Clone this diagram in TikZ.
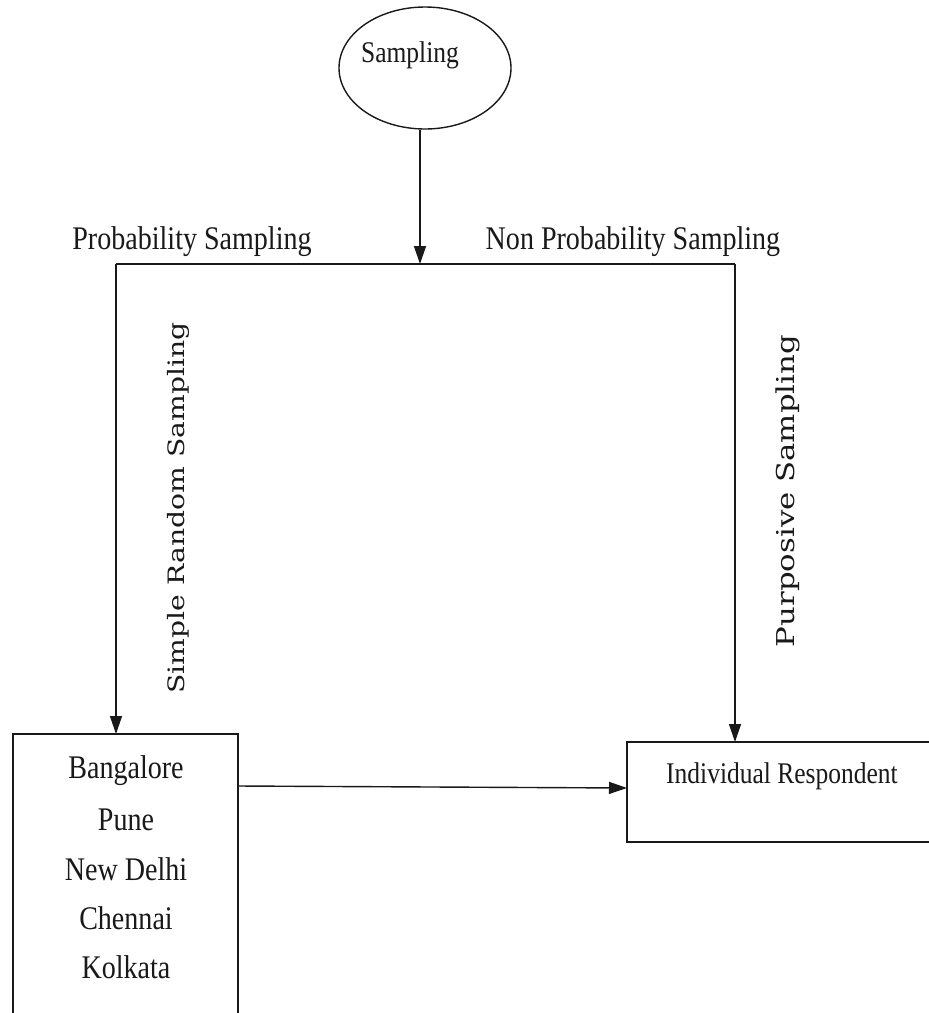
\documentclass[tikz,border=0pt]{standalone}
\usepackage{fontspec}
\usetikzlibrary{shapes.geometric,arrows.meta}
\setmainfont{Liberation Serif}
\newfontfamily\narrowserif[FakeStretch=0.85]{Liberation Serif}
\newfontfamily\sideserif{DejaVu Serif}
\newcommand\sidetext[2]{\scalebox{1}[0.8]{\resizebox{#1}{!}{#2}}}
\begin{document}
\begin{tikzpicture}[x=1pt,y=-1pt,
  line/.style={line width=1.4pt,draw=black!90},
  arr/.style={line,-{Triangle[length=18pt,width=12pt]}},
  lbl/.style={inner sep=0pt,text=black!90,font=\narrowserif\fontsize{33}{40}\selectfont},
  side/.style={inner sep=0pt,rotate=90,text=black!90,font=\sideserif\fontsize{28}{32}\selectfont},
  box/.style={line,fill=white}]
\useasboundingbox (0,0) rectangle (929,1013);
\clip (0,0) rectangle (929,1013);

% top ellipse
\node[ellipse,line,minimum width=172pt,minimum height=122pt,inner sep=0pt] (samp) at (425,68) {};
\node[inner sep=0pt,text=black!90,font=\narrowserif\fontsize{30}{36}\selectfont] (samptxt) at (410,55) {Sampling};

% branching bar
\coordinate (joint) at (420,264);
\coordinate (bl) at (116,264);
\coordinate (br) at (735,264);
\draw[line] (bl) -- (br);
\draw[arr] (samp.south -| joint) -- (joint);

\node[lbl] (prob) at (192,242) {Probability Sampling};
\node[lbl] (nonprob) at (633,242) {Non Probability Sampling};

% boxes
\draw[box] (13,734) rectangle (238,1040);
\coordinate (cityTop) at (116,734);
\node[lbl] (c1) at (126,771) {Bangalore};
\node[lbl] (c2) at (126,820) {Pune};
\node[lbl] (c3) at (126,869) {New Delhi};
\node[lbl] (c4) at (126,918) {Chennai};
\node[lbl] (c5) at (126,967) {Kolkata};

\draw[box] (627,742) rectangle (960,842);
\coordinate (respTop) at (735,742);
\node[lbl,font=\narrowserif\fontsize{30}{36}\selectfont] (resp) at (782,776) {Individual Respondent};

% connectors
\draw[arr] (bl) -- (cityTop);
\draw[arr] (br) -- (respTop);
\draw[arr] (238,786) -- (627,788);

% branch labels
\node[side] (srs) at (178,508) {\sidetext{371pt}{Simple Random Sampling}};
\node[side] (ps) at (788,491) {\sidetext{312pt}{Purposive Sampling}};
\end{tikzpicture}
\end{document}
